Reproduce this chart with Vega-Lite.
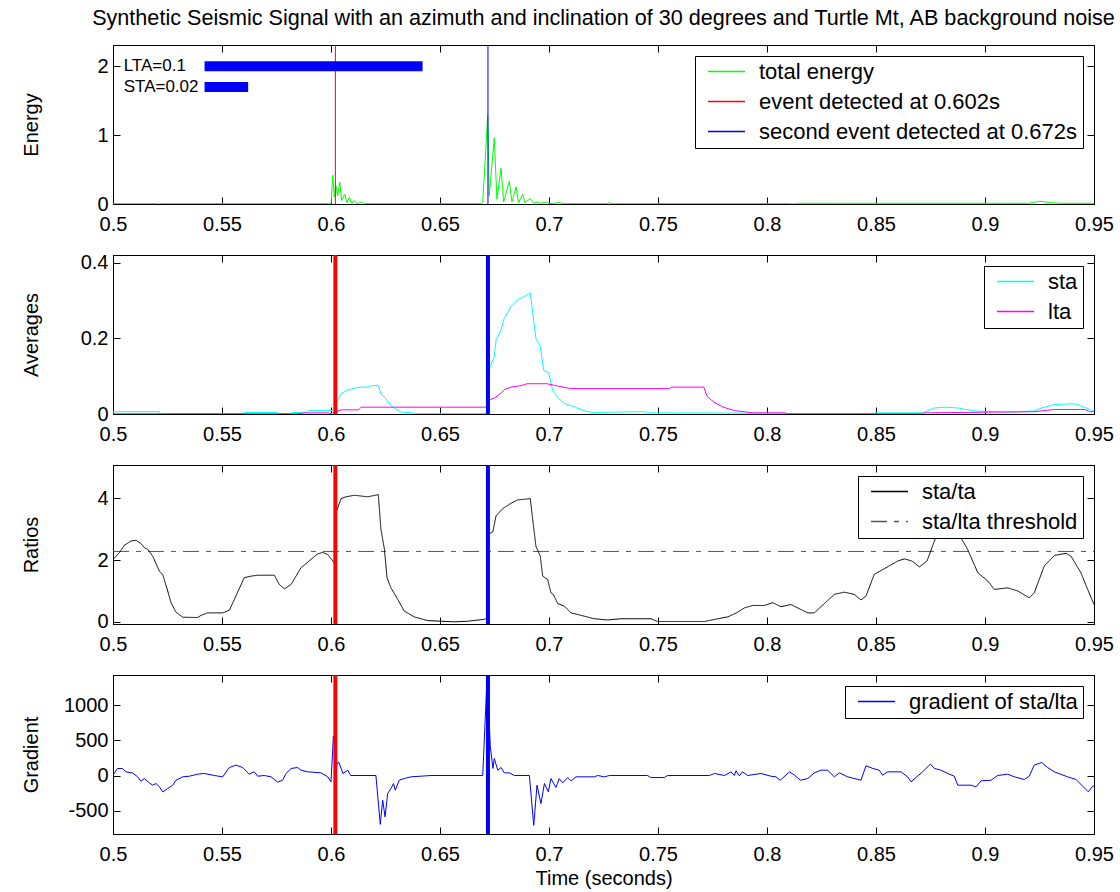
{
  "$schema": "https://vega.github.io/schema/vega-lite/v6.json",
  "background": "white",
  "padding": {"left": 20, "top": 7, "right": 5, "bottom": 5},
  "spacing": 51,
  "bounds": "flush",
  "datasets": {
    "energy": [
      {"t":0.5,"v":0.005,"series":"total energy"},{"t":0.52,"v":0.005,"series":"total energy"},{"t":0.521,"v":0.0,"series":"total energy"},{"t":0.522,"v":0.005,"series":"total energy"},{"t":0.599,"v":0.005,"series":"total energy"},{"t":0.6,"v":0.0,"series":"total energy"},{"t":0.6008,"v":0.42,"series":"total energy"},{"t":0.6015,"v":0.1,"series":"total energy"},{"t":0.6023,"v":0.26,"series":"total energy"},{"t":0.6031,"v":0.12,"series":"total energy"},{"t":0.604,"v":0.32,"series":"total energy"},{"t":0.6049,"v":0.05,"series":"total energy"},{"t":0.6056,"v":0.1,"series":"total energy"},{"t":0.6064,"v":0.14,"series":"total energy"},{"t":0.6073,"v":0.02,"series":"total energy"},{"t":0.6084,"v":0.1,"series":"total energy"},{"t":0.6095,"v":0.01,"series":"total energy"},{"t":0.6107,"v":0.05,"series":"total energy"},{"t":0.6119,"v":0.0,"series":"total energy"},{"t":0.6138,"v":0.03,"series":"total energy"},{"t":0.6153,"v":0.005,"series":"total energy"},{"t":0.669,"v":0.005,"series":"total energy"},{"t":0.6696,"v":0.02,"series":"total energy"},{"t":0.6719,"v":1.29,"series":"total energy"},{"t":0.6726,"v":0.12,"series":"total energy"},{"t":0.6749,"v":0.96,"series":"total energy"},{"t":0.6761,"v":0.07,"series":"total energy"},{"t":0.678,"v":0.52,"series":"total energy"},{"t":0.6792,"v":0.03,"series":"total energy"},{"t":0.6818,"v":0.33,"series":"total energy"},{"t":0.683,"v":0.03,"series":"total energy"},{"t":0.6849,"v":0.25,"series":"total energy"},{"t":0.686,"v":0.02,"series":"total energy"},{"t":0.6879,"v":0.14,"series":"total energy"},{"t":0.689,"v":0.02,"series":"total energy"},{"t":0.6914,"v":0.08,"series":"total energy"},{"t":0.693,"v":0.01,"series":"total energy"},{"t":0.6945,"v":0.03,"series":"total energy"},{"t":0.696,"v":0.01,"series":"total energy"},{"t":0.6991,"v":0.03,"series":"total energy"},{"t":0.7,"v":0.005,"series":"total energy"},{"t":0.705,"v":0.02,"series":"total energy"},{"t":0.706,"v":0.005,"series":"total energy"},{"t":0.727,"v":0.005,"series":"total energy"},{"t":0.7275,"v":0.025,"series":"total energy"},{"t":0.728,"v":0.005,"series":"total energy"},{"t":0.81,"v":0.005,"series":"total energy"},{"t":0.812,"v":0.0,"series":"total energy"},{"t":0.815,"v":0.01,"series":"total energy"},{"t":0.83,"v":0.01,"series":"total energy"},{"t":0.92,"v":0.01,"series":"total energy"},{"t":0.925,"v":0.04,"series":"total energy"},{"t":0.93,"v":0.02,"series":"total energy"},{"t":0.935,"v":0.01,"series":"total energy"},{"t":0.95,"v":0.01,"series":"total energy"}
    ],
    "events": [
      {"t":0.602,"series":"event detected at 0.602s"},
      {"t":0.672,"series":"second event detected at 0.672s"}
    ],
    "windows": [
      {"label":"LTA=0.1","tx":0.5049,"start":0.542,"end":0.642,"level":2.0},
      {"label":"STA=0.02","tx":0.5049,"start":0.542,"end":0.562,"level":1.7}
    ],
    "averages": [
      {"t":0.5,"v":0.006,"series":"sta"},{"t":0.5213,"v":0.006,"series":"sta"},{"t":0.5216,"v":0.001,"series":"sta"},{"t":0.56,"v":0.001,"series":"sta"},{"t":0.5602,"v":0.004,"series":"sta"},{"t":0.5755,"v":0.004,"series":"sta"},{"t":0.5758,"v":0.001,"series":"sta"},{"t":0.5817,"v":0.001,"series":"sta"},{"t":0.582,"v":0.004,"series":"sta"},{"t":0.5893,"v":0.004,"series":"sta"},{"t":0.5896,"v":0.009,"series":"sta"},{"t":0.6,"v":0.009,"series":"sta"},{"t":0.6015,"v":0.012,"series":"sta"},{"t":0.6023,"v":0.027,"series":"sta"},{"t":0.6046,"v":0.053,"series":"sta"},{"t":0.6069,"v":0.062,"series":"sta"},{"t":0.6107,"v":0.068,"series":"sta"},{"t":0.6138,"v":0.071,"series":"sta"},{"t":0.6168,"v":0.071,"series":"sta"},{"t":0.6191,"v":0.075,"series":"sta"},{"t":0.6217,"v":0.076,"series":"sta"},{"t":0.6229,"v":0.053,"series":"sta"},{"t":0.6252,"v":0.04,"series":"sta"},{"t":0.6275,"v":0.022,"series":"sta"},{"t":0.6321,"v":0.005,"series":"sta"},{"t":0.6375,"v":0.003,"series":"sta"},{"t":0.6382,"v":0.001,"series":"sta"},{"t":0.6715,"v":0.001,"series":"sta"},{"t":0.6719,"v":0.11,"series":"sta"},{"t":0.6726,"v":0.12,"series":"sta"},{"t":0.6749,"v":0.151,"series":"sta"},{"t":0.6757,"v":0.195,"series":"sta"},{"t":0.678,"v":0.222,"series":"sta"},{"t":0.6795,"v":0.253,"series":"sta"},{"t":0.6826,"v":0.284,"series":"sta"},{"t":0.6856,"v":0.302,"series":"sta"},{"t":0.6887,"v":0.311,"series":"sta"},{"t":0.6914,"v":0.32,"series":"sta"},{"t":0.694,"v":0.2,"series":"sta"},{"t":0.696,"v":0.178,"series":"sta"},{"t":0.6976,"v":0.115,"series":"sta"},{"t":0.6998,"v":0.11,"series":"sta"},{"t":0.7017,"v":0.062,"series":"sta"},{"t":0.704,"v":0.044,"series":"sta"},{"t":0.707,"v":0.028,"series":"sta"},{"t":0.7116,"v":0.019,"series":"sta"},{"t":0.717,"v":0.007,"series":"sta"},{"t":0.72,"v":0.004,"series":"sta"},{"t":0.7292,"v":0.005,"series":"sta"},{"t":0.7437,"v":0.006,"series":"sta"},{"t":0.745,"v":0.003,"series":"sta"},{"t":0.8087,"v":0.002,"series":"sta"},{"t":0.809,"v":0.0005,"series":"sta"},{"t":0.8492,"v":0.0005,"series":"sta"},{"t":0.8495,"v":0.003,"series":"sta"},{"t":0.8714,"v":0.003,"series":"sta"},{"t":0.8735,"v":0.008,"series":"sta"},{"t":0.8768,"v":0.016,"series":"sta"},{"t":0.8813,"v":0.018,"series":"sta"},{"t":0.8875,"v":0.016,"series":"sta"},{"t":0.8951,"v":0.008,"series":"sta"},{"t":0.9037,"v":0.006,"series":"sta"},{"t":0.912,"v":0.005,"series":"sta"},{"t":0.9226,"v":0.008,"series":"sta"},{"t":0.926,"v":0.016,"series":"sta"},{"t":0.9318,"v":0.025,"series":"sta"},{"t":0.941,"v":0.027,"series":"sta"},{"t":0.945,"v":0.02,"series":"sta"},{"t":0.949,"v":0.009,"series":"sta"},{"t":0.95,"v":0.008,"series":"sta"},
      {"t":0.5,"v":0.0005,"series":"lta"},{"t":0.584,"v":0.0005,"series":"lta"},{"t":0.5878,"v":0.003,"series":"lta"},{"t":0.599,"v":0.003,"series":"lta"},{"t":0.6,"v":0.0005,"series":"lta"},{"t":0.6015,"v":0.005,"series":"lta"},{"t":0.6046,"v":0.011,"series":"lta"},{"t":0.6127,"v":0.011,"series":"lta"},{"t":0.6138,"v":0.018,"series":"lta"},{"t":0.6715,"v":0.018,"series":"lta"},{"t":0.6719,"v":0.033,"series":"lta"},{"t":0.6726,"v":0.037,"series":"lta"},{"t":0.6749,"v":0.042,"series":"lta"},{"t":0.678,"v":0.055,"series":"lta"},{"t":0.6795,"v":0.064,"series":"lta"},{"t":0.6826,"v":0.071,"series":"lta"},{"t":0.6872,"v":0.075,"series":"lta"},{"t":0.69,"v":0.08,"series":"lta"},{"t":0.699,"v":0.08,"series":"lta"},{"t":0.704,"v":0.074,"series":"lta"},{"t":0.71,"v":0.067,"series":"lta"},{"t":0.7552,"v":0.067,"series":"lta"},{"t":0.756,"v":0.071,"series":"lta"},{"t":0.771,"v":0.071,"series":"lta"},{"t":0.7726,"v":0.046,"series":"lta"},{"t":0.7757,"v":0.031,"series":"lta"},{"t":0.78,"v":0.018,"series":"lta"},{"t":0.785,"v":0.009,"series":"lta"},{"t":0.7935,"v":0.003,"series":"lta"},{"t":0.8087,"v":0.003,"series":"lta"},{"t":0.809,"v":0.0005,"series":"lta"},{"t":0.8714,"v":0.0005,"series":"lta"},{"t":0.872,"v":0.003,"series":"lta"},{"t":0.9226,"v":0.006,"series":"lta"},{"t":0.9318,"v":0.012,"series":"lta"},{"t":0.946,"v":0.012,"series":"lta"},{"t":0.948,"v":0.006,"series":"lta"},{"t":0.95,"v":0.006,"series":"lta"}
    ],
    "ratios": [
      {"t":0.5,"v":2.28,"series":"sta/lta threshold"},{"t":0.95,"v":2.28,"series":"sta/lta threshold"},
      {"t":0.5,"v":2.02,"series":"sta/ta"},{"t":0.5029,"v":2.24,"series":"sta/ta"},{"t":0.5052,"v":2.48,"series":"sta/ta"},{"t":0.5083,"v":2.62,"series":"sta/ta"},{"t":0.5106,"v":2.64,"series":"sta/ta"},{"t":0.5128,"v":2.54,"series":"sta/ta"},{"t":0.5144,"v":2.4,"series":"sta/ta"},{"t":0.5159,"v":2.35,"series":"sta/ta"},{"t":0.5182,"v":2.13,"series":"sta/ta"},{"t":0.5213,"v":1.64,"series":"sta/ta"},{"t":0.5228,"v":1.53,"series":"sta/ta"},{"t":0.5251,"v":1.0,"series":"sta/ta"},{"t":0.5266,"v":0.62,"series":"sta/ta"},{"t":0.5289,"v":0.31,"series":"sta/ta"},{"t":0.532,"v":0.15,"series":"sta/ta"},{"t":0.5388,"v":0.14,"series":"sta/ta"},{"t":0.5404,"v":0.21,"series":"sta/ta"},{"t":0.5434,"v":0.29,"series":"sta/ta"},{"t":0.5503,"v":0.29,"series":"sta/ta"},{"t":0.5534,"v":0.38,"series":"sta/ta"},{"t":0.5557,"v":0.73,"series":"sta/ta"},{"t":0.5602,"v":1.43,"series":"sta/ta"},{"t":0.5633,"v":1.48,"series":"sta/ta"},{"t":0.5664,"v":1.51,"series":"sta/ta"},{"t":0.574,"v":1.51,"series":"sta/ta"},{"t":0.5763,"v":1.21,"series":"sta/ta"},{"t":0.5786,"v":1.07,"series":"sta/ta"},{"t":0.5817,"v":1.21,"series":"sta/ta"},{"t":0.5862,"v":1.75,"series":"sta/ta"},{"t":0.5908,"v":2.02,"series":"sta/ta"},{"t":0.5939,"v":2.2,"series":"sta/ta"},{"t":0.5962,"v":2.25,"series":"sta/ta"},{"t":0.5985,"v":2.18,"series":"sta/ta"},{"t":0.6003,"v":2.02,"series":"sta/ta"},{"t":0.6015,"v":1.9,"series":"sta/ta"},{"t":0.6023,"v":3.54,"series":"sta/ta"},{"t":0.6046,"v":3.99,"series":"sta/ta"},{"t":0.6069,"v":4.05,"series":"sta/ta"},{"t":0.6107,"v":4.1,"series":"sta/ta"},{"t":0.6168,"v":4.05,"series":"sta/ta"},{"t":0.6217,"v":4.12,"series":"sta/ta"},{"t":0.6229,"v":3.0,"series":"sta/ta"},{"t":0.6245,"v":2.35,"series":"sta/ta"},{"t":0.6257,"v":1.43,"series":"sta/ta"},{"t":0.6275,"v":1.1,"series":"sta/ta"},{"t":0.6306,"v":0.73,"series":"sta/ta"},{"t":0.6336,"v":0.35,"series":"sta/ta"},{"t":0.6382,"v":0.16,"series":"sta/ta"},{"t":0.6444,"v":0.04,"series":"sta/ta"},{"t":0.6566,"v":0.0,"series":"sta/ta"},{"t":0.6627,"v":0.02,"series":"sta/ta"},{"t":0.6703,"v":0.08,"series":"sta/ta"},{"t":0.6715,"v":0.12,"series":"sta/ta"},{"t":0.6719,"v":2.83,"series":"sta/ta"},{"t":0.6742,"v":2.91,"series":"sta/ta"},{"t":0.6757,"v":3.43,"series":"sta/ta"},{"t":0.6788,"v":3.67,"series":"sta/ta"},{"t":0.6826,"v":3.84,"series":"sta/ta"},{"t":0.6856,"v":3.95,"series":"sta/ta"},{"t":0.6887,"v":3.97,"series":"sta/ta"},{"t":0.6914,"v":3.99,"series":"sta/ta"},{"t":0.694,"v":2.45,"series":"sta/ta"},{"t":0.696,"v":2.13,"series":"sta/ta"},{"t":0.6971,"v":1.48,"series":"sta/ta"},{"t":0.6994,"v":1.37,"series":"sta/ta"},{"t":0.7009,"v":0.94,"series":"sta/ta"},{"t":0.702,"v":0.89,"series":"sta/ta"},{"t":0.704,"v":0.59,"series":"sta/ta"},{"t":0.707,"v":0.51,"series":"sta/ta"},{"t":0.7101,"v":0.29,"series":"sta/ta"},{"t":0.7147,"v":0.21,"series":"sta/ta"},{"t":0.7208,"v":0.1,"series":"sta/ta"},{"t":0.7269,"v":0.06,"series":"sta/ta"},{"t":0.733,"v":0.1,"series":"sta/ta"},{"t":0.7468,"v":0.1,"series":"sta/ta"},{"t":0.7498,"v":0.01,"series":"sta/ta"},{"t":0.7713,"v":0.01,"series":"sta/ta"},{"t":0.776,"v":0.08,"series":"sta/ta"},{"t":0.782,"v":0.16,"series":"sta/ta"},{"t":0.786,"v":0.29,"series":"sta/ta"},{"t":0.7896,"v":0.45,"series":"sta/ta"},{"t":0.7934,"v":0.53,"series":"sta/ta"},{"t":0.7988,"v":0.53,"series":"sta/ta"},{"t":0.8026,"v":0.62,"series":"sta/ta"},{"t":0.8064,"v":0.49,"series":"sta/ta"},{"t":0.811,"v":0.56,"series":"sta/ta"},{"t":0.8187,"v":0.29,"series":"sta/ta"},{"t":0.8217,"v":0.29,"series":"sta/ta"},{"t":0.8309,"v":0.89,"series":"sta/ta"},{"t":0.8355,"v":0.96,"series":"sta/ta"},{"t":0.84,"v":0.89,"series":"sta/ta"},{"t":0.8431,"v":0.71,"series":"sta/ta"},{"t":0.8454,"v":0.83,"series":"sta/ta"},{"t":0.8492,"v":1.54,"series":"sta/ta"},{"t":0.8538,"v":1.72,"series":"sta/ta"},{"t":0.86,"v":1.97,"series":"sta/ta"},{"t":0.863,"v":2.04,"series":"sta/ta"},{"t":0.8665,"v":1.97,"series":"sta/ta"},{"t":0.8699,"v":1.78,"series":"sta/ta"},{"t":0.8734,"v":1.97,"series":"sta/ta"},{"t":0.8768,"v":2.62,"series":"sta/ta"},{"t":0.88,"v":3.1,"series":"sta/ta"},{"t":0.884,"v":3.35,"series":"sta/ta"},{"t":0.887,"v":3.0,"series":"sta/ta"},{"t":0.889,"v":2.72,"series":"sta/ta"},{"t":0.892,"v":2.35,"series":"sta/ta"},{"t":0.8967,"v":1.59,"series":"sta/ta"},{"t":0.9013,"v":1.32,"series":"sta/ta"},{"t":0.9043,"v":1.05,"series":"sta/ta"},{"t":0.9104,"v":1.1,"series":"sta/ta"},{"t":0.915,"v":1.0,"series":"sta/ta"},{"t":0.9203,"v":0.78,"series":"sta/ta"},{"t":0.9226,"v":0.94,"series":"sta/ta"},{"t":0.9272,"v":1.81,"series":"sta/ta"},{"t":0.9318,"v":2.15,"series":"sta/ta"},{"t":0.9372,"v":2.22,"series":"sta/ta"},{"t":0.9394,"v":2.13,"series":"sta/ta"},{"t":0.944,"v":1.59,"series":"sta/ta"},{"t":0.9471,"v":1.05,"series":"sta/ta"},{"t":0.95,"v":0.56,"series":"sta/ta"}
    ],
    "gradient": [
      {"t":0.5,"v":4},{"t":0.5021,"v":100},{"t":0.5044,"v":100},{"t":0.506,"v":50},{"t":0.509,"v":36},{"t":0.5113,"v":-19},{"t":0.5128,"v":-81},{"t":0.5144,"v":-43},{"t":0.5167,"v":-105},{"t":0.5182,"v":-138},{"t":0.5198,"v":-114},{"t":0.5213,"v":-162},{"t":0.5228,"v":-233},{"t":0.5251,"v":-186},{"t":0.5274,"v":-138},{"t":0.5289,"v":-67},{"t":0.532,"v":-19},{"t":0.535,"v":-10},{"t":0.5388,"v":19},{"t":0.5419,"v":29},{"t":0.5465,"v":0},{"t":0.5503,"v":-19},{"t":0.5534,"v":114},{"t":0.5564,"v":148},{"t":0.5595,"v":114},{"t":0.5625,"v":19},{"t":0.5648,"v":52},{"t":0.5664,"v":-10},{"t":0.5694,"v":0},{"t":0.5725,"v":-19},{"t":0.5755,"v":-95},{"t":0.5778,"v":-67},{"t":0.5794,"v":29},{"t":0.5817,"v":100},{"t":0.5847,"v":114},{"t":0.5862,"v":76},{"t":0.5893,"v":52},{"t":0.5954,"v":38},{"t":0.5985,"v":-19},{"t":0.6,"v":-90},{"t":0.6011,"v":560},{"t":0.6025,"v":148},{"t":0.6035,"v":195},{"t":0.6055,"v":29},{"t":0.6077,"v":76},{"t":0.609,"v":0},{"t":0.6206,"v":0},{"t":0.6226,"v":-696},{"t":0.6237,"v":-352},{"t":0.6248,"v":-590},{"t":0.626,"v":-257},{"t":0.6275,"v":-186},{"t":0.6287,"v":-114},{"t":0.6295,"v":-210},{"t":0.6313,"v":-67},{"t":0.6336,"v":-43},{"t":0.6367,"v":-19},{"t":0.6459,"v":0},{"t":0.6696,"v":0},{"t":0.6716,"v":1409},{"t":0.6731,"v":409},{"t":0.6743,"v":100},{"t":0.6749,"v":243},{"t":0.6765,"v":76},{"t":0.678,"v":114},{"t":0.6795,"v":38},{"t":0.6818,"v":38},{"t":0.6841,"v":0},{"t":0.691,"v":0},{"t":0.693,"v":-710},{"t":0.6945,"v":-138},{"t":0.6963,"v":-400},{"t":0.6979,"v":-114},{"t":0.6997,"v":-233},{"t":0.7009,"v":-43},{"t":0.7032,"v":-171},{"t":0.7047,"v":-43},{"t":0.7063,"v":-105},{"t":0.7086,"v":-29},{"t":0.7101,"v":-76},{"t":0.7124,"v":-19},{"t":0.7208,"v":-19},{"t":0.7223,"v":0},{"t":0.7254,"v":-19},{"t":0.7277,"v":0},{"t":0.7452,"v":0},{"t":0.7467,"v":-29},{"t":0.7529,"v":-29},{"t":0.7544,"v":0},{"t":0.7736,"v":0},{"t":0.7759,"v":29},{"t":0.7805,"v":0},{"t":0.7835,"v":52},{"t":0.785,"v":0},{"t":0.7858,"v":67},{"t":0.7873,"v":-5},{"t":0.7888,"v":52},{"t":0.7911,"v":0},{"t":0.7972,"v":29},{"t":0.8018,"v":-10},{"t":0.8041,"v":-19},{"t":0.8061,"v":-67},{"t":0.8103,"v":52},{"t":0.8126,"v":5},{"t":0.8153,"v":-67},{"t":0.8187,"v":-43},{"t":0.8217,"v":38},{"t":0.8248,"v":76},{"t":0.8278,"v":76},{"t":0.8309,"v":-19},{"t":0.8332,"v":38},{"t":0.837,"v":-19},{"t":0.8431,"v":-67},{"t":0.8454,"v":138},{"t":0.8486,"v":100},{"t":0.8515,"v":76},{"t":0.853,"v":5},{"t":0.8554,"v":52},{"t":0.8615,"v":52},{"t":0.8645,"v":-19},{"t":0.8661,"v":-90},{"t":0.8683,"v":-29},{"t":0.8714,"v":52},{"t":0.8749,"v":162},{"t":0.8768,"v":100},{"t":0.8798,"v":76},{"t":0.8829,"v":29},{"t":0.8859,"v":-10},{"t":0.8875,"v":-138},{"t":0.8906,"v":-138},{"t":0.8936,"v":-138},{"t":0.8959,"v":-162},{"t":0.8982,"v":-76},{"t":0.9028,"v":-67},{"t":0.9058,"v":0},{"t":0.9104,"v":19},{"t":0.9135,"v":-19},{"t":0.918,"v":-57},{"t":0.9203,"v":-10},{"t":0.9226,"v":148},{"t":0.926,"v":186},{"t":0.9287,"v":114},{"t":0.9318,"v":52},{"t":0.9379,"v":-19},{"t":0.9418,"v":-57},{"t":0.9448,"v":-152},{"t":0.9474,"v":-233},{"t":0.9494,"v":-152},{"t":0.95,"v":-152}
    ]
  },
  "vconcat": [
    {
      "title": {"text": "Synthetic Seismic Signal with an azimuth and inclination of 30 degrees and Turtle Mt, AB background noise", "fontSize": 21.6, "fontWeight": "normal", "font": "Liberation Sans", "color": "black", "offset": 15, "anchor": "middle"},
      "width": 981, "height": 159,
      "resolve": {"axis": {"x": "independent", "y": "independent"}},
      "layer": [
        {
          "data": {"name": "energy"},
          "mark": {"type": "line", "strokeWidth": 1, "clip": true},
          "encoding": {
            "x": {"field": "t", "type": "quantitative", "scale": {"domain": [0.5, 0.95], "nice": false, "zero": false},
                  "axis": {"values": [0.5,0.55,0.6,0.65,0.7,0.75,0.8,0.85,0.9,0.95], "format": ".2~f", "title": null}},
            "y": {"field": "v", "type": "quantitative", "scale": {"domain": [0, 2.31], "nice": false, "zero": false},
                  "axis": {"values": [0,1,2], "title": "Energy", "titleX": -82, "titleBaseline": "middle"}},
            "color": {"field": "series", "type": "nominal",
                      "scale": {"domain": ["total energy", "event detected at 0.602s", "second event detected at 0.672s"], "range": ["#00ff00", "#ff0000", "#0000ff"]},
                      "legend": {"title": null}}
          }
        },
        {
          "data": {"name": "events"},
          "mark": {"type": "rule", "strokeWidth": 1},
          "encoding": {
            "x": {"field": "t", "type": "quantitative", "axis": null},
            "color": {"field": "series", "type": "nominal", "legend": {"title": null}}
          }
        },
        {
          "data": {"name": "windows"},
          "mark": {"type": "rule", "strokeWidth": 10, "strokeCap": "butt", "color": "#0000ff"},
          "encoding": {
            "x": {"field": "start", "type": "quantitative", "axis": null},
            "x2": {"field": "end"},
            "y": {"field": "level", "type": "quantitative", "axis": null}
          }
        },
        {
          "data": {"name": "windows"},
          "mark": {"type": "text", "align": "left", "baseline": "middle", "fontSize": 17, "font": "Liberation Sans", "color": "black"},
          "encoding": {
            "x": {"field": "tx", "type": "quantitative", "axis": null},
            "y": {"field": "level", "type": "quantitative", "axis": null},
            "text": {"field": "label"}
          }
        },
        {
          "data": {"name": "energy"},
          "mark": {"type": "point", "opacity": 0, "size": 0},
          "encoding": {
            "x": {"field": "t", "type": "quantitative", "axis": {"orient": "top", "values": [0.5,0.55,0.6,0.65,0.7,0.75,0.8,0.85,0.9,0.95], "labels": false, "title": null}},
            "y": {"field": "v", "type": "quantitative", "axis": {"orient": "right", "values": [0,1,2], "labels": false, "title": null}}
          }
        }
      ]
    },
    {
      "width": 981, "height": 159,
      "resolve": {"axis": {"x": "independent", "y": "independent"}},
      "layer": [
        {
          "data": {"name": "averages"},
          "mark": {"type": "line", "strokeWidth": 1, "clip": true},
          "encoding": {
            "x": {"field": "t", "type": "quantitative", "scale": {"domain": [0.5, 0.95], "nice": false, "zero": false},
                  "axis": {"values": [0.5,0.55,0.6,0.65,0.7,0.75,0.8,0.85,0.9,0.95], "format": ".2~f", "title": null}},
            "y": {"field": "v", "type": "quantitative", "scale": {"domain": [0, 0.42], "nice": false, "zero": false},
                  "axis": {"values": [0,0.2,0.4], "format": ".1~f", "title": "Averages", "titleX": -82, "titleBaseline": "middle"}},
            "color": {"field": "series", "type": "nominal", "sort": null,
                      "scale": {"domain": ["sta", "lta"], "range": ["#00ffff", "#ff00ff"]},
                      "legend": {"title": null}}
          }
        },
        {
          "data": {"name": "events"},
          "mark": {"type": "rule", "strokeWidth": 4},
          "encoding": {
            "x": {"field": "t", "type": "quantitative", "axis": null},
            "stroke": {"field": "series", "type": "nominal", "scale": {"domain": ["event detected at 0.602s", "second event detected at 0.672s"], "range": ["#ff0000", "#0000ff"]}, "legend": null}
          }
        },
        {
          "data": {"name": "averages"},
          "mark": {"type": "point", "opacity": 0, "size": 0},
          "encoding": {
            "x": {"field": "t", "type": "quantitative", "axis": {"orient": "top", "values": [0.5,0.55,0.6,0.65,0.7,0.75,0.8,0.85,0.9,0.95], "labels": false, "title": null}},
            "y": {"field": "v", "type": "quantitative", "axis": {"orient": "right", "values": [0,0.2,0.4], "labels": false, "title": null}}
          }
        }
      ]
    },
    {
      "width": 981, "height": 159,
      "resolve": {"axis": {"x": "independent", "y": "independent"}},
      "layer": [
        {
          "data": {"name": "ratios"},
          "mark": {"type": "line", "strokeWidth": 1, "clip": true},
          "encoding": {
            "x": {"field": "t", "type": "quantitative", "scale": {"domain": [0.5, 0.95], "nice": false, "zero": false},
                  "axis": {"values": [0.5,0.55,0.6,0.65,0.7,0.75,0.8,0.85,0.9,0.95], "format": ".2~f", "title": null}},
            "y": {"field": "v", "type": "quantitative", "scale": {"domain": [-0.07, 5.08], "nice": false, "zero": false},
                  "axis": {"values": [0,2,4], "title": "Ratios", "titleX": -82, "titleBaseline": "middle"}},
            "color": {"field": "series", "type": "nominal",
                      "scale": {"domain": ["sta/ta", "sta/lta threshold"], "range": ["#000000", "#555555"]},
                      "legend": {"title": null}},
            "strokeDash": {"field": "series", "type": "nominal",
                      "scale": {"domain": ["sta/ta", "sta/lta threshold"], "range": [[1, 0], [16, 7, 5, 7]]},
                      "legend": {"title": null}}
          }
        },
        {
          "data": {"name": "events"},
          "mark": {"type": "rule", "strokeWidth": 4},
          "encoding": {
            "x": {"field": "t", "type": "quantitative", "axis": null},
            "stroke": {"field": "series", "type": "nominal", "scale": {"domain": ["event detected at 0.602s", "second event detected at 0.672s"], "range": ["#ff0000", "#0000ff"]}, "legend": null}
          }
        },
        {
          "data": {"name": "ratios"},
          "mark": {"type": "point", "opacity": 0, "size": 0},
          "encoding": {
            "x": {"field": "t", "type": "quantitative", "axis": {"orient": "top", "values": [0.5,0.55,0.6,0.65,0.7,0.75,0.8,0.85,0.9,0.95], "labels": false, "title": null}},
            "y": {"field": "v", "type": "quantitative", "axis": {"orient": "right", "values": [0,2,4], "labels": false, "title": null}}
          }
        }
      ]
    },
    {
      "width": 981, "height": 159,
      "resolve": {"axis": {"x": "independent", "y": "independent"}},
      "layer": [
        {
          "data": {"name": "gradient"},
          "transform": [{"calculate": "'gradient of sta/lta'", "as": "series"}],
          "mark": {"type": "line", "strokeWidth": 1, "clip": true},
          "encoding": {
            "x": {"field": "t", "type": "quantitative", "scale": {"domain": [0.5, 0.95], "nice": false, "zero": false},
                  "axis": {"values": [0.5,0.55,0.6,0.65,0.7,0.75,0.8,0.85,0.9,0.95], "format": ".2~f", "title": "Time (seconds)", "titlePadding": 4}},
            "y": {"field": "v", "type": "quantitative", "scale": {"domain": [-834, 1433], "nice": false, "zero": false},
                  "axis": {"values": [-500,0,500,1000], "labelExpr": "datum.value < 0 ? '-' + format(-datum.value, 'd') : format(datum.value, 'd')", "title": "Gradient", "titleX": -82, "titleBaseline": "middle"}},
            "color": {"field": "series", "type": "nominal",
                      "scale": {"domain": ["gradient of sta/lta"], "range": ["#0000ff"]},
                      "legend": {"title": null}}
          }
        },
        {
          "data": {"name": "events"},
          "mark": {"type": "rule", "strokeWidth": 4},
          "encoding": {
            "x": {"field": "t", "type": "quantitative", "axis": null},
            "stroke": {"field": "series", "type": "nominal", "scale": {"domain": ["event detected at 0.602s", "second event detected at 0.672s"], "range": ["#ff0000", "#0000ff"]}, "legend": null}
          }
        },
        {
          "data": {"name": "gradient"},
          "mark": {"type": "point", "opacity": 0, "size": 0},
          "encoding": {
            "x": {"field": "t", "type": "quantitative", "axis": {"orient": "top", "values": [0.5,0.55,0.6,0.65,0.7,0.75,0.8,0.85,0.9,0.95], "labels": false, "title": null}},
            "y": {"field": "v", "type": "quantitative", "axis": {"orient": "right", "values": [-500,0,500,1000], "labels": false, "title": null}}
          }
        }
      ]
    }
  ],
  "resolve": {
    "scale": {"x": "independent", "y": "independent", "color": "independent", "stroke": "independent", "strokeDash": "independent"},
    "legend": {"color": "independent", "strokeDash": "independent", "stroke": "independent"}
  },
  "config": {
    "font": "Liberation Sans",
    "view": {"stroke": "black", "strokeWidth": 1},
    "axis": {
      "grid": false,
      "labelFont": "Liberation Sans", "labelFontSize": 20, "labelColor": "black",
      "titleFont": "Liberation Sans", "titleFontSize": 20, "titleFontWeight": "normal", "titleColor": "black",
      "tickColor": "black", "domainColor": "black", "tickSize": -7, "labelPadding": 12,
      "labelFlush": false, "labelOverlap": false
    },
    "axisX": {"labelPadding": 17},
    "axisY": {"labelPadding": 12},
    "legend": {
      "orient": "top-right", "offset": 11,
      "strokeColor": "black", "fillColor": "white", "padding": 5, "cornerRadius": 0,
      "symbolType": "stroke", "symbolSize": 1369, "symbolStrokeWidth": 1.5, "symbolOffset": 7,
      "labelFont": "Liberation Sans", "labelFontSize": 22, "labelColor": "black", "labelOffset": 13, "labelLimit": 0,
      "rowPadding": 7, "clipHeight": 21
    }
  }
}
